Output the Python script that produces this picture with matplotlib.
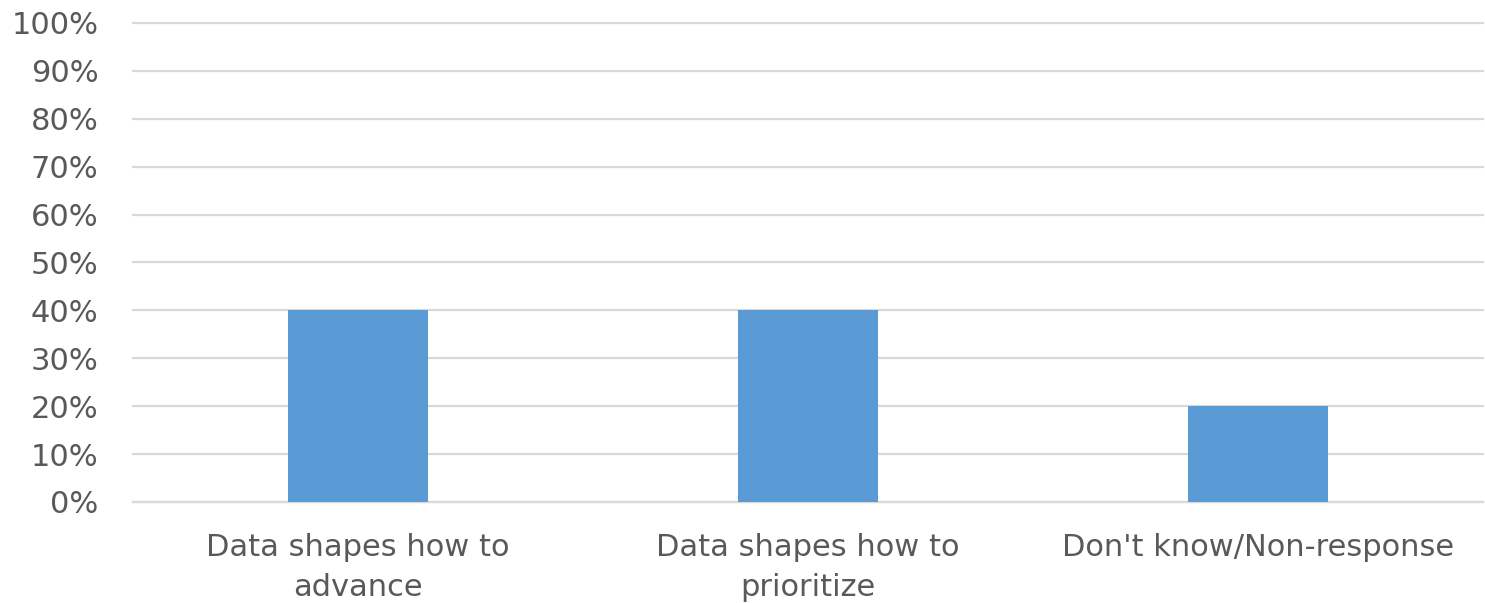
import matplotlib.pyplot as plt
from matplotlib.ticker import PercentFormatter

categories = ['Data shapes how to\nadvance', 'Data shapes how to\nprioritize', "Don't know/Non-response"]
values = [40, 40, 20]
yticks = list(range(0, 101, 10))

plt.rcParams['font.family'] = ['DejaVu Sans']

fig = plt.figure(figsize=(14.85, 6.03), dpi=100)
ax = fig.add_axes([0.0896, 0.1675, 0.9091, 0.7944])

ax.bar(range(len(categories)), values, width=0.31, color='#5b9bd5', zorder=3)

ax.set_xlim(-0.5, len(categories) - 0.5)
ax.set_ylim(0, 100)
ax.set_yticks(yticks)
ax.yaxis.set_major_formatter(PercentFormatter(decimals=0))
ax.set_xticks(range(len(categories)))
ax.set_xticklabels(categories, linespacing=1.5, va='top')

ax.grid(axis='y', color='#d9d9d9', linewidth=1.6, zorder=0)
for gl in ax.get_ygridlines():
    gl.set_clip_on(False)
ax.set_axisbelow(True)
for s in ['top', 'right', 'left']:
    ax.spines[s].set_visible(False)
ax.spines['bottom'].set_color('#d9d9d9')
ax.spines['bottom'].set_linewidth(1.6)

ax.tick_params(axis='y', length=0, pad=25, labelsize=22, labelcolor='#595959')
ax.tick_params(axis='x', length=0, pad=22, labelsize=22, labelcolor='#595959')

fig.savefig('out.png', dpi=100)
